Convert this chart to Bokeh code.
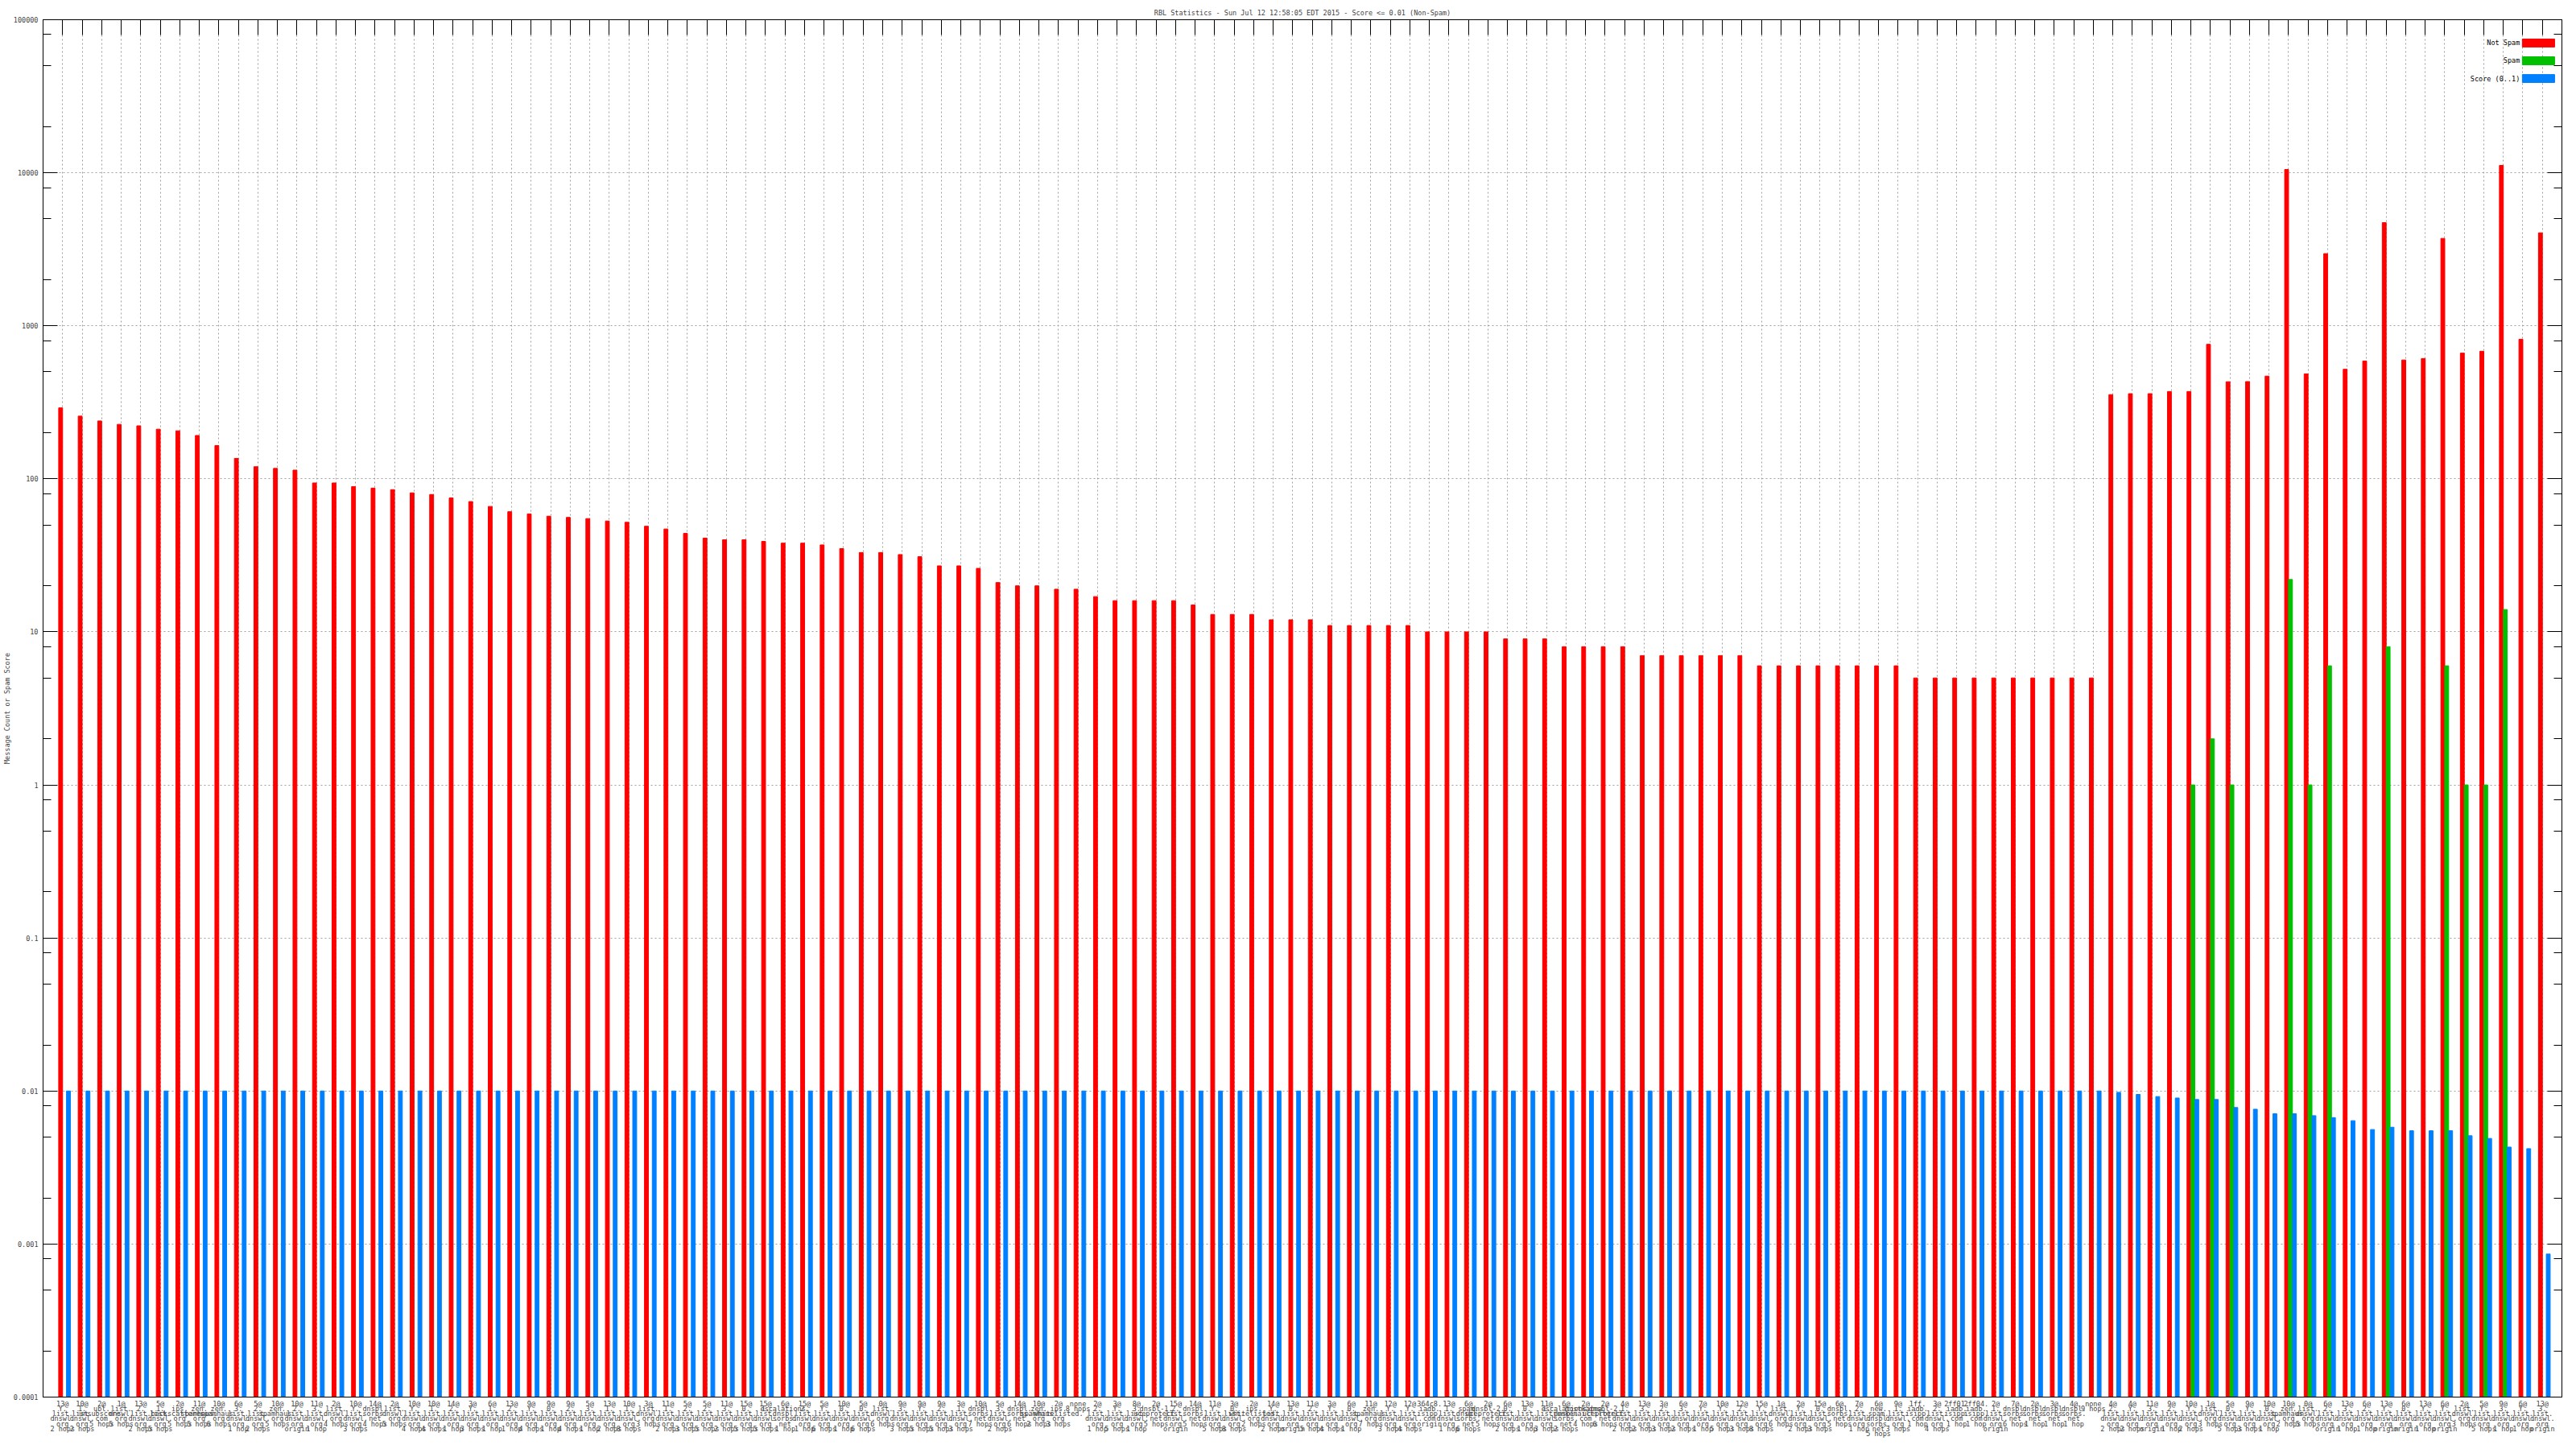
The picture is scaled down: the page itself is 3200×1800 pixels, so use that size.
import math
import numpy as np
from bokeh.plotting import figure
from bokeh.models import (Range1d, FixedTicker, LinearAxis, LogAxis, CustomJSTickFormatter,
                          Label, ColumnDataSource)
from bokeh.transform import dodge
from bokeh.embed import file_html
from bokeh.resources import INLINE

TITLE = "RBL Statistics - Sun Jul 12 12:58:05 EDT 2015 - Score <= 0.01 (Non-Spam)"
Y_LABEL = "Message Count or Spam Score"
SERIES_NAMES = ["Not Spam", "Spam", "Score (0..1)"]
Y_TICKS = [0.0001, 0.001, 0.01, 0.1, 1, 10, 100, 1000, 10000, 100000]

LABELS = [
    "13@\nY.\nlist.\ndnswl.\norg\n2 hops",
    "10@\n1.\nlist.\ndnswl.\norg\n2 hops",
    "2@\nubl.\nunsubscore.\ncom\n5 hops",
    "1@\nlist.\ndnswl.\norg\n5 hops",
    "13@\n2.\nlist.\ndnswl.\norg\n2 hops",
    "5@\n1.\nlist.\ndnswl.\norg\n5 hops",
    "2@\nips.\nbackscatterer.\norg\n5 hops",
    "11@\nzen.\nspamhaus.\norg\n5 hops",
    "10@\nzen.\nspamhaus.\norg\n6 hops",
    "6@\n3.\nlist.\ndnswl.\norg\n1 hop",
    "5@\n2.\nlist.\ndnswl.\norg\n2 hops",
    "10@\nzen.\nspamhaus.\norg\n5 hops",
    "10@\n2.\nlist.\ndnswl.\norg\norigin",
    "11@\n3.\nlist.\ndnswl.\norg\n1 hop",
    "2@\nlist.\ndnswl.\norg\n4 hops",
    "10@\nY.\nlist.\ndnswl.\norg\n3 hops",
    "14@\ndnsbl.\nsorbs.\nnet\n4 hops",
    "2@\nlist.\ndnswl.\norg\n5 hops",
    "10@\nY.\nlist.\ndnswl.\norg\n4 hops",
    "10@\n1.\nlist.\ndnswl.\norg\n4 hops",
    "14@\n2.\nlist.\ndnswl.\norg\n1 hop",
    "3@\nY.\nlist.\ndnswl.\norg\n3 hops",
    "6@\n1.\nlist.\ndnswl.\norg\n1 hop",
    "13@\n2.\nlist.\ndnswl.\norg\n1 hop",
    "9@\nY.\nlist.\ndnswl.\norg\n4 hops",
    "9@\n0.\nlist.\ndnswl.\norg\n1 hop",
    "9@\n2.\nlist.\ndnswl.\norg\n4 hops",
    "5@\n3.\nlist.\ndnswl.\norg\n1 hop",
    "13@\n1.\nlist.\ndnswl.\norg\n2 hops",
    "10@\n1.\nlist.\ndnswl.\norg\n8 hops",
    "3@\nlist.\ndnswl.\norg\n3 hops",
    "11@\n1.\nlist.\ndnswl.\norg\n2 hops",
    "5@\n2.\nlist.\ndnswl.\norg\n3 hops",
    "5@\n2.\nlist.\ndnswl.\norg\n5 hops",
    "11@\n3.\nlist.\ndnswl.\norg\n2 hops",
    "15@\n0.\nlist.\ndnswl.\norg\n5 hops",
    "15@\n1.\nlist.\ndnswl.\norg\n5 hops",
    "6@\nescalations.\ndnsbl.\nsorbs.\nnet\n1 hop",
    "15@\n2.\nlist.\ndnswl.\norg\n1 hop",
    "5@\nY.\nlist.\ndnswl.\norg\n6 hops",
    "10@\n0.\nlist.\ndnswl.\norg\n1 hop",
    "5@\n0.\nlist.\ndnswl.\norg\n6 hops",
    "0@\nlist.\ndnswl.\norg\n6 hops",
    "9@\n3.\nlist.\ndnswl.\norg\n3 hops",
    "9@\nY.\nlist.\ndnswl.\norg\n5 hops",
    "9@\n2.\nlist.\ndnswl.\norg\n5 hops",
    "3@\n1.\nlist.\ndnswl.\norg\n3 hops",
    "10@\ndnsbl.\nsorbs.\nnet\n7 hops",
    "5@\n3.\nlist.\ndnswl.\norg\n2 hops",
    "14@\ndnsbl.\nsorbs.\nnet\n6 hops",
    "10@\nzen.\nspamhaus.\norg\n2 hops",
    "2@\nips.\nwhitelisted.\norg\n3 hops",
    "none\n8 hops",
    "2@\n2.\nlist.\ndnswl.\norg\n1 hop",
    "3@\nY.\nlist.\ndnswl.\norg\n5 hops",
    "8@\n3.\nlist.\ndnswl.\norg\n1 hop",
    "2@\ndnsbl-1.\nuceprotect.\nnet\n5 hops",
    "15@\n2.\nlist.\ndnswl.\norg\norigin",
    "14@\ndnsbl.\nsorbs.\nnet\n5 hops",
    "11@\nY.\nlist.\ndnswl.\norg\n5 hops",
    "3@\n0.\nlist.\ndnswl.\norg\n8 hops",
    "2@\nips.\nwhitelisted.\norg\n2 hops",
    "14@\nY.\nlist.\ndnswl.\norg\n2 hops",
    "13@\n0.\nlist.\ndnswl.\norg\norigin",
    "11@\n2.\nlist.\ndnswl.\norg\n5 hops",
    "3@\nY.\nlist.\ndnswl.\norg\n4 hops",
    "6@\n0.\nlist.\ndnswl.\norg\n1 hop",
    "11@\nzen.\nspamhaus.\norg\n7 hops",
    "12@\nY.\nlist.\ndnswl.\norg\n3 hops",
    "12@\nY.\nlist.\ndnswl.\norg\n4 hops",
    "364c8.\niadb.\nisipp.\ncom\norigin",
    "13@\n1.\nlist.\ndnswl.\norg\n1 hop",
    "6@\nspam.\ndnsbl.\nsorbs.\nnet\n6 hops",
    "2@\ndnsbl-2.\nuceprotect.\nnet\n5 hops",
    "6@\n0.\nlist.\ndnswl.\norg\n2 hops",
    "13@\n0.\nlist.\ndnswl.\norg\n1 hop",
    "11@\n1.\nlist.\ndnswl.\norg\n3 hops",
    "6@\nescalations.\ndnsbl.\nsorbs.\nnet\n2 hops",
    "2@\nhostkarma.\njunkemailfilter.\ncom\n4 hops",
    "2@\ndnsbl-2.\nuceprotect.\nnet\n6 hops",
    "4@\n1.\nlist.\ndnswl.\norg\n2 hops",
    "13@\n3.\nlist.\ndnswl.\norg\n2 hops",
    "3@\n2.\nlist.\ndnswl.\norg\n3 hops",
    "6@\n3.\nlist.\ndnswl.\norg\n2 hops",
    "7@\nY.\nlist.\ndnswl.\norg\n1 hop",
    "10@\nY.\nlist.\ndnswl.\norg\n5 hops",
    "12@\n2.\nlist.\ndnswl.\norg\n3 hops",
    "15@\nY.\nlist.\ndnswl.\norg\n8 hops",
    "1@\nlist.\ndnswl.\norg\n6 hops",
    "2@\nY.\nlist.\ndnswl.\norg\n2 hops",
    "15@\n0.\nlist.\ndnswl.\norg\n3 hops",
    "6@\ndnsbl.\nsorbs.\nnet\n5 hops",
    "7@\n2.\nlist.\ndnswl.\norg\n1 hop",
    "6@\nnew.\nspam.\ndnsbl.\nsorbs.\nnet\n5 hops",
    "9@\n1.\nlist.\ndnswl.\norg\n3 hops",
    "1ff.\niadb.\nisipp.\ncom\n1 hop",
    "3@\n2.\nlist.\ndnswl.\norg\n4 hops",
    "2ff01.\niadb.\nisipp.\ncom\n1 hop",
    "2ff04.\niadb.\nisipp.\ncom\n1 hop",
    "2@\n1.\nlist.\ndnswl.\norg\norigin",
    "7@\ndnsbl.\nsorbs.\nnet\n6 hops",
    "2@\ndnsbl.\nsorbs.\nnet\n1 hop",
    "3@\ndnsbl.\nsorbs.\nnet\n1 hop",
    "4@\ndnsbl.\nsorbs.\nnet\n1 hop",
    "none\n9 hops",
    "4@\n2.\nlist.\ndnswl.\norg\n2 hops",
    "4@\nY.\nlist.\ndnswl.\norg\n2 hops",
    "11@\n3.\nlist.\ndnswl.\norg\norigin",
    "9@\n2.\nlist.\ndnswl.\norg\n1 hop",
    "10@\nY.\nlist.\ndnswl.\norg\n2 hops",
    "1@\nlist.\ndnswl.\norg\n3 hops",
    "5@\n0.\nlist.\ndnswl.\norg\n5 hops",
    "9@\nY.\nlist.\ndnswl.\norg\n3 hops",
    "10@\n0.\nlist.\ndnswl.\norg\n1 hop",
    "10@\nzen.\nspamhaus.\norg\n2 hops",
    "0@\nlist.\ndnswl.\norg\n5 hops",
    "6@\n2.\nlist.\ndnswl.\norg\norigin",
    "13@\n3.\nlist.\ndnswl.\norg\n1 hop",
    "6@\n2.\nlist.\ndnswl.\norg\n1 hop",
    "13@\nY.\nlist.\ndnswl.\norg\norigin",
    "6@\n0.\nlist.\ndnswl.\norg\norigin",
    "13@\nY.\nlist.\ndnswl.\norg\n1 hop",
    "6@\nY.\nlist.\ndnswl.\norg\norigin",
    "2@\nlist.\ndnswl.\norg\n3 hops",
    "5@\nY.\nlist.\ndnswl.\norg\n5 hops",
    "9@\n3.\nlist.\ndnswl.\norg\n1 hop",
    "6@\nY.\nlist.\ndnswl.\norg\n1 hop",
    "13@\n3.\nlist.\ndnswl.\norg\norigin",
]

NOT_SPAM = [
    291, 257, 239, 227, 222, 211, 206, 192, 165, 136,
    120, 117, 114, 94, 94, 89, 87, 85, 81, 79,
    75, 71, 66, 61, 59, 57, 56, 55, 53, 52,
    49, 47, 44, 41, 40, 40, 39, 38, 38, 37,
    35, 33, 33, 32, 31, 27, 27, 26, 21, 20,
    20, 19, 19, 17, 16, 16, 16, 16, 15, 13,
    13, 13, 12, 12, 12, 11, 11, 11, 11, 11,
    10, 10, 10, 10, 9, 9, 9, 8, 8, 8,
    8, 7, 7, 7, 7, 7, 7, 6, 6, 6,
    6, 6, 6, 6, 6, 5, 5, 5, 5, 5,
    5, 5, 5, 5, 5, 355, 360, 360, 372, 372,
    757, 431, 432, 469, 10500, 485, 2960, 520, 589, 4720,
    598, 611, 3725, 663, 682, 11170, 817, 4050,
]

SPAM = [0] * 109 + [1, 2, 1, 0, 0, 22, 1, 6, 0, 0, 8, 0, 0, 6, 1, 1, 14, 0, 0]

SCORE = [0.01] * 105 + [
    0.0098, 0.0095, 0.0092, 0.0090, 0.0088, 0.0088, 0.0078, 0.0076, 0.0071, 0.0071,
    0.0069, 0.0067, 0.0064, 0.0056, 0.0058, 0.0055, 0.0055, 0.0055, 0.0051, 0.0049,
    0.0043, 0.0042, 0.00086,
]

N = len(LABELS)
YMIN, YMAX = Y_TICKS[0], Y_TICKS[-1]
FONT = "DejaVu Sans Mono"
FS = "8.5px"
RED, GREEN, BLUE = "#ff0000", "#00c000", "#0080ff"
GRID = "#a0a0a0"

source = ColumnDataSource(dict(
    x=list(range(N)),
    not_spam=np.array(NOT_SPAM, dtype=float),
    spam=np.array([v if v > 0 else np.nan for v in SPAM], dtype=float),
    score=np.array(SCORE, dtype=float),
))

p = figure(frame_width=3129, frame_height=1711,
           x_range=Range1d(-1, N), y_range=Range1d(YMIN, YMAX),
           y_axis_type="log", output_backend="svg", toolbar_location=None,
           min_border_left=47, min_border_right=8, min_border_top=24, min_border_bottom=10)
p.background_fill_color = "white"
p.border_fill_color = "white"
p.outline_line_color = "black"
p.outline_line_width = 1

p.title.text = TITLE
p.title.align = "center"
p.title.text_font = FONT
p.title.text_font_size = FS
p.title.text_font_style = "normal"
p.title.standoff = 7

W = 0.2
p.vbar(x=dodge("x", -0.1), top="not_spam", bottom=YMIN, width=W, color=RED, source=source)
p.vbar(x=dodge("x", 0.1), top="spam", bottom=YMIN, width=W, color=GREEN, source=source)
p.vbar(x=dodge("x", 0.3), top="score", bottom=YMIN, width=W, color=BLUE, source=source)

xticker = FixedTicker(ticks=list(range(N)))
xa = p.xaxis[0]
xa.ticker = xticker
xa.major_label_overrides = {i: LABELS[i] for i in range(N)}
xa.major_label_text_font = FONT
xa.major_label_text_font_size = FS
xa.major_label_text_line_height = 0.63
xa.major_label_standoff = 3
xa.major_label_orientation = "horizontal"
xa.major_tick_in = 0
xa.major_tick_out = 0
xa.minor_tick_in = 0
xa.minor_tick_out = 0
xa.axis_line_color = "black"

minor = [k * d for d in Y_TICKS[:-1] for k in (2, 5, 8)]
yticker = FixedTicker(ticks=Y_TICKS, minor_ticks=minor)
ya = p.yaxis[0]
ya.ticker = yticker
ya.formatter = CustomJSTickFormatter(code="return String(tick)")
ya.major_label_text_font = FONT
ya.major_label_text_font_size = FS
ya.major_label_standoff = 6
ya.major_tick_in = 18
ya.major_tick_out = 0
ya.minor_tick_in = 10
ya.minor_tick_out = 0
ya.axis_label = Y_LABEL
ya.axis_label_text_font = FONT
ya.axis_label_text_font_size = FS
ya.axis_label_text_font_style = "normal"
ya.axis_label_standoff = 0
ya.axis_line_color = "black"

ra = LogAxis(ticker=yticker, major_tick_in=18, major_tick_out=0, minor_tick_in=10, minor_tick_out=0,
             major_label_text_font_size="0px", major_label_standoff=0,
             formatter=CustomJSTickFormatter(code="return ''"))
p.add_layout(ra, "right")

ta = LinearAxis(ticker=xticker, major_tick_in=19, major_tick_out=0, minor_tick_in=0, minor_tick_out=0,
                major_label_text_font_size="0px", major_label_standoff=0,
                formatter=CustomJSTickFormatter(code="return ''"))
p.add_layout(ta, "above")

p.xgrid.ticker = xticker
p.ygrid.ticker = FixedTicker(ticks=Y_TICKS)
for g in (p.xgrid, p.ygrid):
    g.grid_line_color = GRID
    g.grid_line_dash = "2 3"
    g.grid_line_width = 1

# legend (gnuplot style: text left of the colour swatch), placed by fractions of the frame
def x_at(frac):
    return -1 + frac * (N + 1)

def y_at(frac):
    lo, hi = math.log10(YMIN), math.log10(YMAX)
    return 10 ** (lo + frac * (hi - lo))

rows = [0.9831, 0.9702, 0.9573]
half = 0.0029
p.quad(left=[x_at(0.9843)] * 3, right=[x_at(0.9971)] * 3,
       top=[y_at(r + half) for r in rows], bottom=[y_at(r - half) for r in rows],
       color=[RED, GREEN, BLUE])
for name, r in zip(SERIES_NAMES, rows):
    p.add_layout(Label(x=x_at(0.9833), y=y_at(r), text=name, text_align="right",
                       text_baseline="middle", text_font=FONT, text_font_size=FS,
                       text_color="black"))

open("out.html", "w").write(file_html(p, INLINE))
